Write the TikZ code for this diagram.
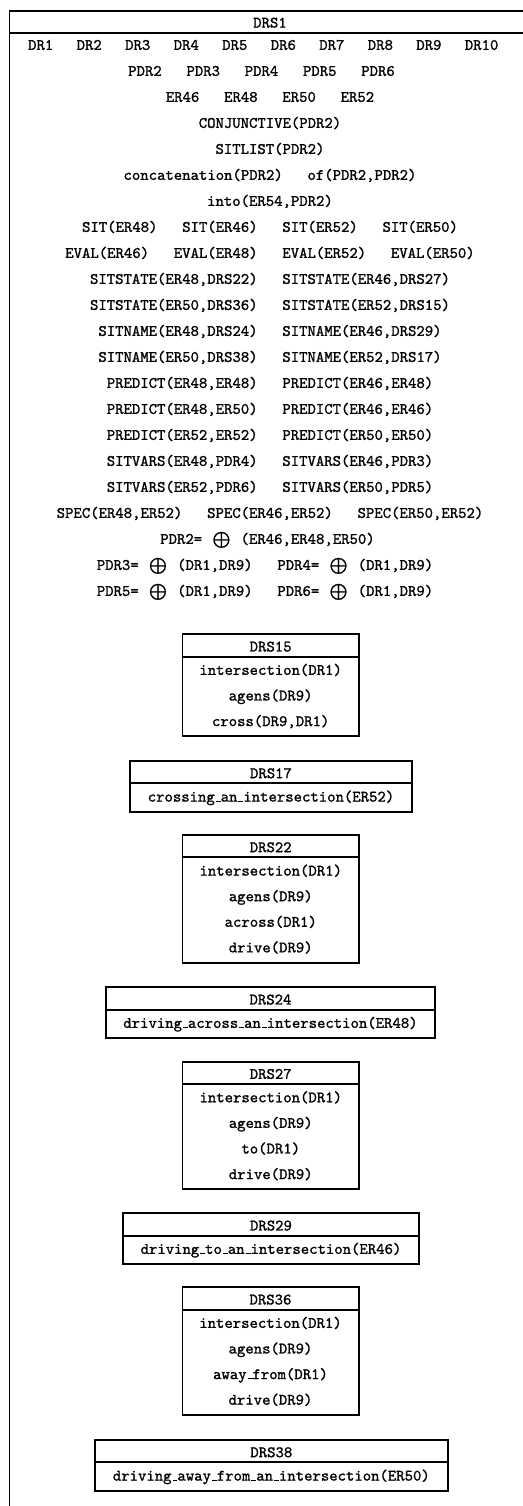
\documentclass[tikz,border=0pt]{standalone}
\newcommand\us{\kern0.6pt\rule{3.1pt}{0.5pt}}% low rule between words
\newcommand\gp{\hspace{15.5pt}}% gap between conditions on one line
\newcommand\rg{\hspace{14.65pt}}% gap between discourse referents
\newcommand\sumop{\hspace{6.5pt}$\bigoplus$\hspace{6.5pt}}
% DRS box: key, left, right, top, title, number of conditions, conditions
\newcommand\drsbox[7]{%
  \pgfmathsetmacro\drsmid{(#2+#3)/2}%
  \pgfmathsetmacro\drsbot{#4+50.7+(#6-1)*25.6}%
  \draw[frame] (#2,#4) rectangle (#3,\drsbot);
  \draw[frame] (#2,#4+22.4) -- (#3,#4+22.4);
  \node[txt] (#1) at (\drsmid,#4+12.3) {#5};
  \foreach \cond [count=\i] in {#7}
    \node[txt] (#1-\i) at (\drsmid,{#4+35.7+(\i-1)*25.6}) {\cond};
}
\begin{document}
\begin{tikzpicture}[x=0.6265pt,y=-0.6265pt,
  frame/.style={line width=1.25pt},
  txt/.style={font=\ttfamily\special{pdf:code 2 Tr 0.12 w}, inner sep=0pt, text height=6.1pt, text depth=0pt}]
\useasboundingbox (0,0) rectangle (523,1506);

% main DRS frame (runs past the page on the right and at the bottom)
\begin{scope}
  \clip (0,0) rectangle (523,1506);
  \draw[frame] (9.5,10.5) rectangle (531,1530);
  \draw[frame] (9.5,32.7) -- (531,32.7);
\end{scope}
\node[txt] (drs1) at (270,22.7) {DRS1};

% universe
\node[txt] (u0) at (263.3,45) {DR1\rg DR2\rg DR3\rg DR4\rg DR5\rg DR6\rg DR7\rg DR8\rg DR9\rg DR10};
\node[txt] (u1) at (261.5,71) {PDR2\gp PDR3\gp PDR4\gp PDR5\gp PDR6};
\node[txt] (u2) at (270,97) {ER46\gp ER48\gp ER50\gp ER52};

% conditions
\node[txt] (c3)  at (270,123) {CONJUNCTIVE(PDR2)};
\node[txt] (c4)  at (270,149) {SITLIST(PDR2)};
\node[txt] (c5)  at (270,175) {concatenation(PDR2)\gp of(PDR2,PDR2)};
\node[txt] (c6)  at (270,201) {into(ER54,PDR2)};
\node[txt] (c7)  at (270,227) {SIT(ER48)\gp SIT(ER46)\gp SIT(ER52)\gp SIT(ER50)};
\node[txt] (c8)  at (270,253) {EVAL(ER46)\gp EVAL(ER48)\gp EVAL(ER52)\gp EVAL(ER50)};
\node[txt] (c9)  at (270,279) {SITSTATE(ER48,DRS22)\gp SITSTATE(ER46,DRS27)};
\node[txt] (c10) at (270,305) {SITSTATE(ER50,DRS36)\gp SITSTATE(ER52,DRS15)};
\node[txt] (c11) at (270,331) {SITNAME(ER48,DRS24)\gp SITNAME(ER46,DRS29)};
\node[txt] (c12) at (270,357) {SITNAME(ER50,DRS38)\gp SITNAME(ER52,DRS17)};
\node[txt] (c13) at (270,383) {PREDICT(ER48,ER48)\gp PREDICT(ER46,ER48)};
\node[txt] (c14) at (270,409) {PREDICT(ER48,ER50)\gp PREDICT(ER46,ER46)};
\node[txt] (c15) at (270,435) {PREDICT(ER52,ER52)\gp PREDICT(ER50,ER50)};
\node[txt] (c16) at (270,461) {SITVARS(ER48,PDR4)\gp SITVARS(ER46,PDR3)};
\node[txt] (c17) at (270,487) {SITVARS(ER52,PDR6)\gp SITVARS(ER50,PDR5)};
\node[txt] (c18) at (270,513) {SPEC(ER48,ER52)\gp SPEC(ER46,ER52)\gp SPEC(ER50,ER52)};
\node[txt] (c19) at (267.5,539) {PDR2=\sumop(ER46,ER48,ER50)};
\node[txt] (c20) at (265,565) {PDR3=\sumop(DR1,DR9)\gp PDR4=\sumop(DR1,DR9)};
\node[txt] (c21) at (265,591) {PDR5=\sumop(DR1,DR9)\gp PDR6=\sumop(DR1,DR9)};

% embedded DRSs
\drsbox{drs15}{182.5}{358.8}{634.3}{DRS15}{3}{{intersection(DR1)},{agens(DR9)},{cross(DR9,DR1)}}
\drsbox{drs17}{130}{412}{761}{DRS17}{1}{{crossing\us an\us intersection(ER52)}}
\drsbox{drs22}{182.5}{359}{835}{DRS22}{4}{{intersection(DR1)},{agens(DR9)},{across(DR1)},{drive(DR9)}}
\drsbox{drs24}{106}{435}{987.3}{DRS24}{1}{{driving\us across\us an\us intersection(ER48)}}
\drsbox{drs27}{182.5}{359}{1061.7}{DRS27}{4}{{intersection(DR1)},{agens(DR9)},{to(DR1)},{drive(DR9)}}
\drsbox{drs29}{122.7}{419.3}{1213.3}{DRS29}{1}{{driving\us to\us an\us intersection(ER46)}}
\drsbox{drs36}{182.5}{358.5}{1287.3}{DRS36}{4}{{intersection(DR1)},{agens(DR9)},{away\us from(DR1)},{drive(DR9)}}
\drsbox{drs38}{95}{447.7}{1440}{DRS38}{1}{{driving\us away\us from\us an\us intersection(ER50)}}
\end{tikzpicture}
\end{document}
